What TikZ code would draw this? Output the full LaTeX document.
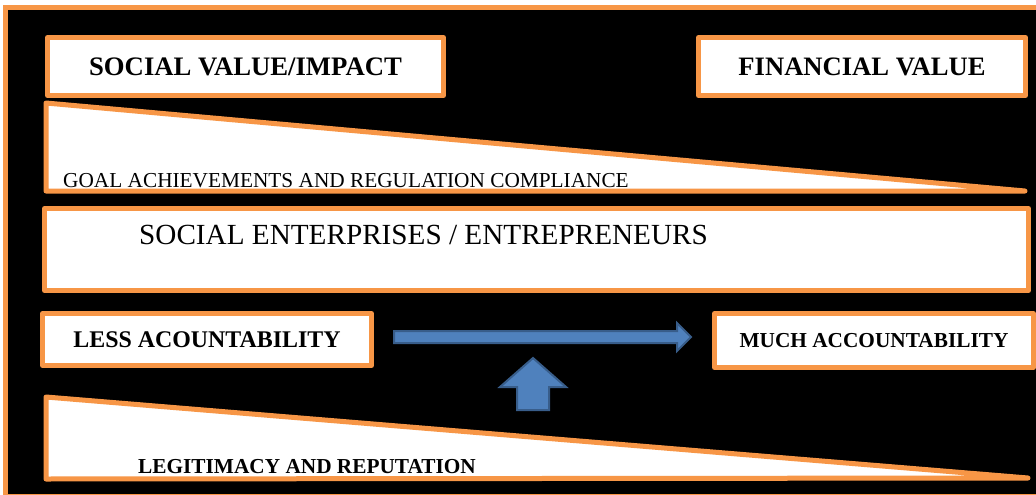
\documentclass[tikz,border=0pt]{standalone}
\usepackage{fontspec}
\setmainfont{Liberation Serif}
\definecolor{frameor}{HTML}{F79646}
\definecolor{arrfill}{HTML}{4F81BD}
\definecolor{arrline}{HTML}{385D8A}
\begin{document}
\begin{tikzpicture}[x=1pt,y=-1pt,
  orline/.style={draw=frameor, line width=5pt, line join=round},
  box/.style={orline, fill=white, rectangle, inner sep=0pt, anchor=north west, text depth=0pt},
  boldlbl/.style 2 args={font=\bfseries\fontsize{#1}{#1}\selectfont, text height=#2},
  plainlbl/.style={font=\fontsize{#1}{#1}\selectfont, inner sep=0pt, anchor=base west},
  blockarrow/.style={fill=arrfill, draw=arrline, line width=2pt, line join=miter}
]
\useasboundingbox (0,0) rectangle (1036,495);
\fill[white] (0,0) rectangle (1036,495);
\clip (0,0) rectangle (1036,495);
% outer frame
\draw[orline, fill=black, line join=miter] (5.5,7.5) rectangle (1045,496);

% top boxes
\node[box, boldlbl={26.7pt}{17.7pt}, minimum width=396pt, minimum height=58pt] (svi) at (45,35) {SOCIAL VALUE/IMPACT};
\node[box, boldlbl={26.6pt}{17.6pt}, minimum width=327pt, minimum height=58pt] (fin) at (696,35) {FINANCIAL VALUE};

% top wedge
\draw[orline, fill=white] (46,103) -- (1025,191) -- (46,191) -- cycle;
\node[plainlbl=21.3pt] (goal) at (63,187) {GOAL ACHIEVEMENTS AND REGULATION COMPLIANCE};

% social enterprises band
\node[box, minimum width=984pt, minimum height=82pt] (se) at (42,206) {};
\node[plainlbl=29.2pt] (setxt) at (139,244) {SOCIAL ENTERPRISES / ENTREPRENEURS};

% accountability boxes
\node[box, boldlbl={23.9pt}{15.8pt}, minimum width=329pt, minimum height=52pt] (less) at (40,311) {LESS ACOUNTABILITY};
\node[box, boldlbl={21.3pt}{14.1pt}, minimum width=319pt, minimum height=54pt] (much) at (712,311) {MUCH ACCOUNTABILITY};

% horizontal block arrow
\draw[blockarrow] (394,331) -- (677,331) -- (677,323) -- (691,337) -- (677,351) -- (677,343) -- (394,343) -- cycle;
% up block arrow
\draw[blockarrow] (533,358) -- (566,387) -- (549,387) -- (549,410) -- (517,410) -- (517,387) -- (500,387) -- cycle;

% bottom wedge
\draw[orline, fill=white] (46,397) -- (1028,478) -- (46,479) -- cycle;
\node[plainlbl=21.3pt, font=\bfseries\fontsize{21.3pt}{21.3pt}\selectfont] (legit) at (138,473) {LEGITIMACY AND REPUTATION};
\end{tikzpicture}
\end{document}
